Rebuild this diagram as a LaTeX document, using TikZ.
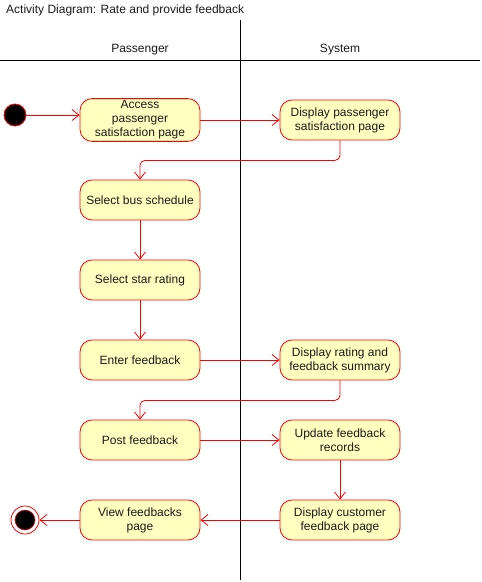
\documentclass[tikz,border=0pt]{standalone}
\usepackage{fontspec}
\setmainfont{Liberation Sans}
\usetikzlibrary{arrows.meta}
\definecolor{actfill}{HTML}{FFFFC0}
\definecolor{actline}{HTML}{FF0000}
\definecolor{txt}{HTML}{1A1A1A}
\begin{document}
\begin{tikzpicture}[x=1pt,y=-1pt,
  act/.style={draw=actline,fill=actfill,rounded corners=12pt,minimum width=120pt,minimum height=40pt,
    align=center,inner sep=2pt,text=txt,font=\fontsize{12}{14}\selectfont,line width=0.8pt},
  flow/.style={draw=actline,line width=0.8pt,-{Straight Barb[length=7pt,width=11pt,line width=0.8pt]},rounded corners=5pt},
  lane/.style={draw=black,line width=0.8pt},
  lbl/.style={font=\fontsize{12}{14}\selectfont,text=txt,inner sep=0pt}]
\useasboundingbox (0,0) rectangle (482,582);
% title and lanes
\node[lbl,anchor=west] (title) at (6,10) {Activity Diagram: Rate and provide feedback};
\coordinate (vtop) at (240,20);
\coordinate (vbot) at (240,580);
\coordinate (hl) at (0,60);
\coordinate (hr) at (480,60);
\draw[lane] (vtop) -- (vbot);
\draw[lane] (hl) -- (hr);
\node[lbl] (p) at (140,50) {Passenger};
\node[lbl] (s) at (340,50) {System};
% start/end
\node[circle,fill=black,draw=actline,line width=0.8pt,minimum size=22pt,inner sep=0pt] (start) at (15,115) {};
\node[circle,draw=actline,fill=white,line width=0.8pt,minimum size=28pt,inner sep=0pt] (end) at (25,520) {};
\node[circle,fill=black,draw=actline,line width=0.5pt,minimum size=20pt,inner sep=0pt] (endin) at (25,520) {};
% activities
\node[act] (a1) at (140,120) {Access\\passenger\\satisfaction page};
\node[act] (b1) at (340,120) {Display passenger\\satisfaction page};
\node[act] (a2) at (140,200) {Select bus schedule};
\node[act] (a3) at (140,280) {Select star rating};
\node[act] (a4) at (140,360) {Enter feedback};
\node[act] (b4) at (340,360) {Display rating and\\feedback summary};
\node[act] (a5) at (140,440) {Post feedback};
\node[act] (b5) at (340,440) {Update feedback\\records};
\node[act] (a6) at (140,520) {View feedbacks\\page};
\node[act] (b6) at (340,520) {Display customer\\feedback page};
% flows
\draw[flow] (start.east) -- (a1.west |- start.east);
\draw[flow] (a1) -- (b1);
\draw[flow] (b1.south) -- ++(0,20) -| (a2.north);
\draw[flow] (a2) -- (a3);
\draw[flow] (a3) -- (a4);
\draw[flow] (a4) -- (b4);
\draw[flow] (b4.south) -- ++(0,20) -| (a5.north);
\draw[flow] (a5) -- (b5);
\draw[flow] (b5) -- (b6);
\draw[flow] (b6) -- (a6);
\draw[flow] (a6) -- (end);
\end{tikzpicture}
\end{document}
